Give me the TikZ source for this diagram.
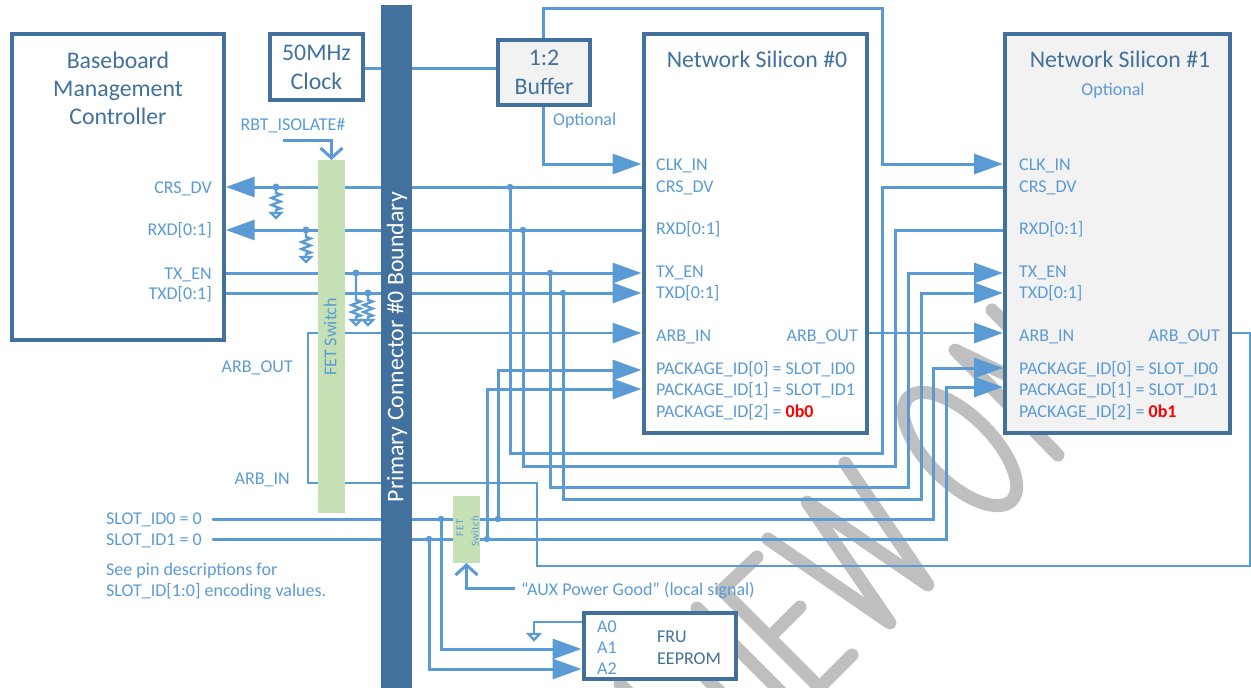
\documentclass[tikz,border=0pt]{standalone}
\usepackage{fontspec}
\setmainfont{Carlito}
\usetikzlibrary{arrows.meta}
\definecolor{wireblue}{HTML}{5B9BD5}
\definecolor{darkblue}{HTML}{41719C}
\definecolor{fetgreen}{HTML}{C5E0B4}
\definecolor{wmgrey}{HTML}{BFBFBF}
\definecolor{panel}{HTML}{F2F2F2}
\tikzset{
  box/.style={draw=darkblue,line width=4pt,fill=white,inner sep=0pt,outer sep=2pt,text=darkblue,align=center},
  wire/.style={draw=wireblue,line width=3pt},
  thinwire/.style={draw=wireblue,line width=2.95pt},
  big/.style={-{Triangle[length=29pt,width=20pt]}},
  barb/.style={-{Straight Barb[length=10pt,width=22pt,line width=3pt]}},
  lbl/.style={text=wireblue,inner sep=0pt,font=\fontsize{18}{21}\selectfont,text height=15pt,text depth=3.5pt},
  ttl/.style={text=darkblue,inner sep=0pt,align=center,font=\fontsize{23.8}{28}\selectfont},
  fet/.style={fill=fetgreen,inner sep=0pt,outer sep=0pt},
  dotnode/.style={circle,fill=wireblue,inner sep=0pt,minimum size=7pt},
  wm/.style={draw=wmgrey,line width=13pt,line cap=round,line join=round},
  gnd/.style={draw=wireblue,line width=2.4pt,line join=miter}
}
\newcommand{\pullres}[4]{% x, dot y, zigzag top, name
  \node[dotnode] (#4) at (#1,#2) {};
  \draw[wire,line width=2.4pt] (#4.center) -- (#1,#3) -- ++(4.5,1.5) -- ++(-9,3.5) -- ++(9,3.5) -- ++(-9,3.5) -- ++(9,3.5) -- ++(-4.5,1.5) -- ++(0,3);
  \draw[gnd] (#1-5,#3+20) -- (#1+5,#3+20) -- (#1,#3+25) -- cycle;
}
\begin{document}
\begin{tikzpicture}[x=1pt,y=-1pt]
\useasboundingbox (0,0) rectangle (1251,688);
% watermark
\draw[wm] (845,463) -- (928,585) -- (807,502) -- (890,623) -- (768,539);
\draw[wm] (757,557) -- (722,590) -- (825,693);
\draw[wm] (800,607) -- (770,637);
\draw[wm] (852,655) -- (815,692);
\draw[wm] (697,608) -- (790,701);
\draw[wm] (620,684) -- (640,704);
\draw[wm] (706,678) -- (730,702);
\draw[wm,rotate around={-45:(960,449)}] (960,449) ellipse [x radius=73pt,y radius=33pt];
\draw[wm] (1058,455) -- (955,350) -- (1100,420);
\draw[wm] (992,310) -- (1100,420);
% boxes
\node[box,minimum width=212.2pt,minimum height=305.5pt] (bmc) at (117.6,186.75) {};
\node[box,minimum width=93pt,minimum height=66pt,font=\fontsize{23.8}{29}\selectfont] (clock) at (316.5,67) {50MHz\\Clock};
\node[box,fill=panel,minimum width=92pt,minimum height=65.5pt,font=\fontsize{23.8}{29}\selectfont] (buf) at (544,72.25) {1:2\\Buffer};
\node[box,minimum width=223.5pt,minimum height=398.5pt] (ns0) at (755.25,233.25) {};
\node[box,fill=panel,minimum width=225pt,minimum height=398.5pt] (ns1) at (1117.5,233.25) {};
\node[box,minimum width=152.5pt,minimum height=66pt] (fru) at (659.75,646) {};
% clock
\draw[wire] (clock.east |- 0,68) -- (buf.west |- 0,68);
\draw[wire,big] ([xshift=-1pt]buf.south) -- ([xshift=-1pt]buf.south |- 0,164) -- (ns0.west |- 0,164);
\draw[wire] ([xshift=-1pt]buf.north) -- ([xshift=-1pt]buf.north |- 0,8) -- (882,8) -- (882,164);
\draw[wire,big] (882,8) -- (882,164) -- (ns1.west |- 0,164);
% main signals
\draw[wire,big] (ns0.west |- 0,187) -- (bmc.east |- 0,187);
\draw[wire,big] (ns0.west |- 0,230) -- (bmc.east |- 0,230);
\draw[wire,big] (bmc.east |- 0,273) -- (ns0.west |- 0,273);
\draw[wire,big] (bmc.east |- 0,293) -- (ns0.west |- 0,293);
% to NS1
\draw[wire] (510,187) -- (510,453) -- (882,453) -- (882,187) -- (ns1.west |- 0,187);
\draw[wire] (523,230) -- (523,466) -- (895,466) -- (895,230) -- (ns1.west |- 0,230);
\draw[wire,big] (550,273) -- (550,487) -- (908,487) -- (908,273) -- (ns1.west |- 0,273);
\draw[wire,big] (563,293) -- (563,499) -- (921,499) -- (921,293) -- (ns1.west |- 0,293);
% slot ids
\coordinate (slotz) at (213,519);
\coordinate (slotw) at (213,539);
\draw[wire,big,line cap=round] (slotz) -- (933,519) -- (933,368) -- (ns1.west |- 0,368);
\draw[wire,big,line cap=round] (slotw) -- (946,539) -- (946,387) -- (ns1.west |- 0,387);
\draw[wire,big] (498,519) -- (498,370) -- (ns0.west |- 0,370);
\draw[wire,big] (487,539) -- (487,389) -- (ns0.west |- 0,389);
\draw[wire,big] (441,519) -- (441,649) -- (fru.west |- 0,649);
\draw[wire,big] (429,539) -- (429,669) -- (fru.west |- 0,669);
% FRU A0
\draw[wire,line width=2.4pt] (fru.west |- 0,622) -- (534,622) -- (534,634);
\draw[gnd] (528.5,634) -- (539.5,634) -- (534,640) -- cycle;
% ARB
\draw[thinwire,big] (ns0.east |- 0,333) -- (ns1.west |- 0,333);
\draw[thinwire,big] (ns1.east |- 0,333) -- (1250,333) -- (1250,566) -- (537,566) -- (537,483) -- (308,483) -- (308,333) -- (ns0.west |- 0,333);
% junctions
\node[dotnode,minimum size=6.5pt] (j1) at (510,187) {};
\node[dotnode,minimum size=6.5pt] (j2) at (523,230) {};
\node[dotnode,minimum size=6.5pt] (j3) at (550,273) {};
\node[dotnode,minimum size=6.5pt] (j4) at (563,293) {};
\node[dotnode,minimum size=6.5pt] (j5) at (498,519) {};
\node[dotnode,minimum size=6.5pt] (j6) at (487,539) {};
\node[dotnode,minimum size=6.5pt] (j7) at (441,519) {};
\node[dotnode,minimum size=6.5pt] (j8) at (429,539) {};
% pull-ups
\pullres{276}{187}{193}{r1}
\pullres{306}{230}{237}{r2}
\pullres{356}{273}{300}{r3}
\pullres{368}{293}{300}{r4}
% bar and switches
\node[fill=darkblue,inner sep=0pt,minimum width=31pt,minimum height=683pt] (bar) at (396.5,346.5) {};
\node[text=white,rotate=90,inner sep=0pt,font=\fontsize{23.8}{26}\selectfont] (barlbl) at (397,347) {Primary Connector \#0 Boundary};
\node[fet,minimum width=27pt,minimum height=353pt] (fet1) at (331.5,336.5) {};
\node[fet,minimum width=27pt,minimum height=67pt] (fet2) at (466.5,529.5) {};
\node[lbl,rotate=90,text height=12pt] (fet1lbl) at (332,337) {FET Switch};
\node[text=wireblue,rotate=90,inner sep=0pt,font=\fontsize{10.5}{12}\selectfont\addfontfeatures{LetterSpace=10}] (fet2a) at (460,528) {FET};
\node[text=wireblue,rotate=90,inner sep=0pt,font=\fontsize{10.5}{12}\selectfont\addfontfeatures{LetterSpace=5}] (fet2b) at (475,531) {Switch};
\coordinate (rbt) at (283,140);
\coordinate (aux) at (515,588);
\draw[wire,barb] (rbt) -- (fet1.north |- rbt) -- (fet1.north);
\draw[wire,barb] (aux) -- (fet2.south |- aux) -- (fet2.south);
% titles
\node[ttl] (t1) at (118,88) {Baseboard\\Management\\Controller};
\node[ttl] (t2) at (757,59) {Network Silicon \#0};
\node[ttl] (t3) at (1120,59) {Network Silicon \#1};
% left labels
\node[lbl,anchor=east] (l1) at (212,188) {CRS\_DV};
\node[lbl,anchor=east] (l2) at (212,230) {RXD[0:1]};
\node[lbl,anchor=east] (l3) at (212,274) {TX\_EN};
\node[lbl,anchor=east] (l4) at (212,294) {TXD[0:1]};
\node[lbl] (l5) at (293,125) {RBT\_ISOLATE\#};
\node[lbl,anchor=east] (l6) at (293,367) {ARB\_OUT};
\node[lbl,anchor=east] (l7) at (290,479) {ARB\_IN};
\node[lbl,anchor=west] (l8) at (106,519) {SLOT\_ID0 = 0};
\node[lbl,anchor=west] (l9) at (106,540) {SLOT\_ID1 = 0};
\node[lbl,anchor=west] (l10) at (106,570) {See pin descriptions for};
\node[lbl,anchor=west] (l11) at (106,591) {SLOT\_ID[1:0] encoding values.};
\node[lbl,anchor=west] (l12) at (521,590) {“AUX Power Good” (local signal)};
\node[lbl,anchor=west] (l13) at (553,120) {Optional};
\node[lbl] (l14) at (1113,90) {Optional};
% NS0 labels
\node[lbl,anchor=west] (a1) at (656,165) {CLK\_IN};
\node[lbl,anchor=west] (a2) at (656,187) {CRS\_DV};
\node[lbl,anchor=west] (a3) at (656,229) {RXD[0:1]};
\node[lbl,anchor=west] (a4) at (656,272) {TX\_EN};
\node[lbl,anchor=west] (a5) at (656,293) {TXD[0:1]};
\node[lbl,anchor=west] (a6) at (656,336) {ARB\_IN};
\node[lbl,anchor=east] (a7) at (858,336) {ARB\_OUT};
\node[lbl,anchor=west] (a8) at (656,369) {PACKAGE\_ID[0] = SLOT\_ID0};
\node[lbl,anchor=west] (a9) at (656,390) {PACKAGE\_ID[1] = SLOT\_ID1};
\node[lbl,anchor=west] (a10) at (656,412) {PACKAGE\_ID[2] = \textcolor{red}{\textbf{0b0}}};
% NS1 labels
\node[lbl,anchor=west] (b1) at (1019,165) {CLK\_IN};
\node[lbl,anchor=west] (b2) at (1019,187) {CRS\_DV};
\node[lbl,anchor=west] (b3) at (1019,229) {RXD[0:1]};
\node[lbl,anchor=west] (b4) at (1019,272) {TX\_EN};
\node[lbl,anchor=west] (b5) at (1019,293) {TXD[0:1]};
\node[lbl,anchor=west] (b6) at (1019,336) {ARB\_IN};
\node[lbl,anchor=east] (b7) at (1220,336) {ARB\_OUT};
\node[lbl,anchor=west] (b8) at (1019,369) {PACKAGE\_ID[0] = SLOT\_ID0};
\node[lbl,anchor=west] (b9) at (1019,390) {PACKAGE\_ID[1] = SLOT\_ID1};
\node[lbl,anchor=west] (b10) at (1019,412) {PACKAGE\_ID[2] = \textcolor{red}{\textbf{0b1}}};
% FRU
\node[lbl,anchor=west] (c1) at (597,627) {A0};
\node[lbl,anchor=west] (c2) at (597,648) {A1};
\node[lbl,anchor=west] (c3) at (597,669) {A2};
\node[lbl,anchor=west,text=darkblue] (c4) at (657,637) {FRU};
\node[lbl,anchor=west,text=darkblue] (c5) at (657,659) {EEPROM};
\end{tikzpicture}
\end{document}
